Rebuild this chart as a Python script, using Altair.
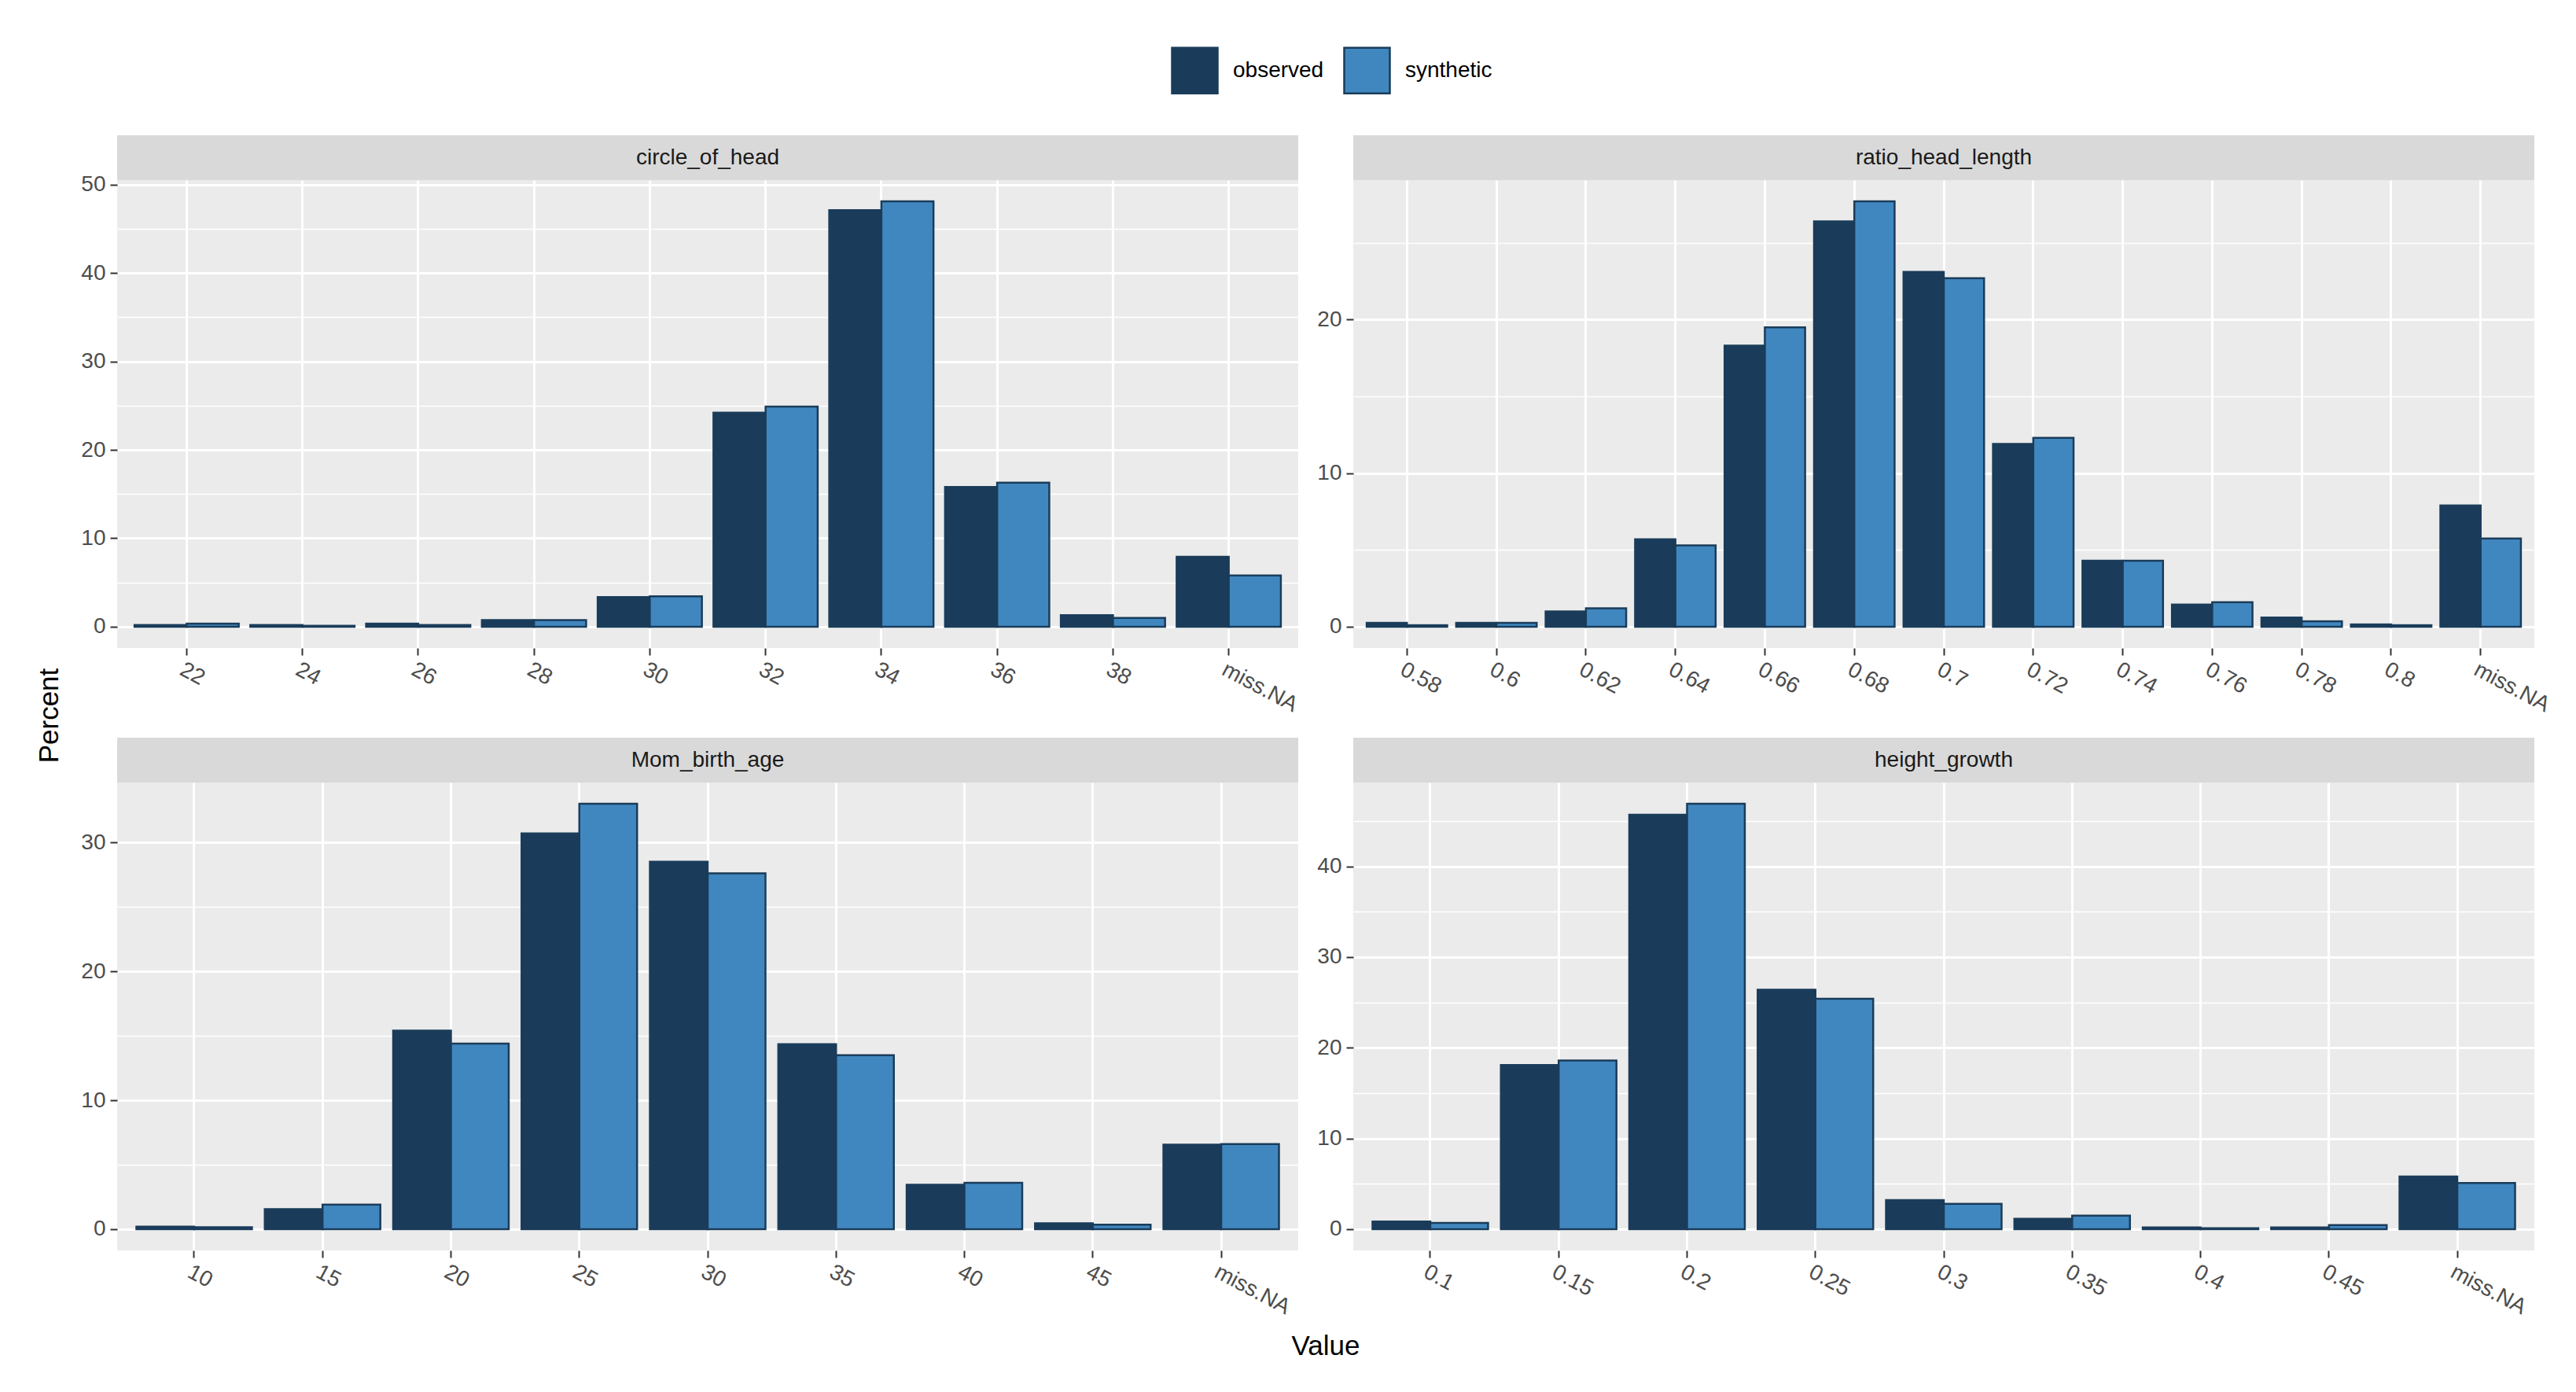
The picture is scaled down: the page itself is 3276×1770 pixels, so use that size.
import altair as alt
import pandas as pd

FONT = "Liberation Sans"
SERIES = ["observed", "synthetic"]
COLORS = ["#1A3C5A", "#4187BF"]
STROKE = "#1A3C5A"

# ---- data (percent per category) ----
circle_cats = ["22", "24", "26", "28", "30", "32", "34", "36", "38", "miss.NA"]
circle_obs = [0.2, 0.2, 0.35, 0.75, 3.35, 24.2, 47.1, 15.8, 1.3, 7.9]
circle_syn = [0.35, 0.1, 0.2, 0.75, 3.45, 24.9, 48.1, 16.3, 1.0, 5.8]

ratio_cats = ["0.58", "0.6", "0.62", "0.64", "0.66", "0.68", "0.7", "0.72",
              "0.74", "0.76", "0.78", "0.8", "miss.NA"]
ratio_obs = [0.25, 0.25, 1.0, 5.7, 18.3, 26.4, 23.1, 11.9, 4.3, 1.45, 0.6, 0.15, 7.9]
ratio_syn = [0.1, 0.25, 1.2, 5.3, 19.5, 27.7, 22.7, 12.3, 4.3, 1.6, 0.35, 0.1, 5.75]

mom_cats = ["10", "15", "20", "25", "30", "35", "40", "45", "miss.NA"]
mom_obs = [0.2, 1.55, 15.4, 30.7, 28.5, 14.35, 3.45, 0.45, 6.55]
mom_syn = [0.15, 1.9, 14.4, 33.0, 27.6, 13.5, 3.6, 0.35, 6.6]

hg_cats = ["0.1", "0.15", "0.2", "0.25", "0.3", "0.35", "0.4", "0.45", "miss.NA"]
hg_obs = [0.85, 18.1, 45.7, 26.4, 3.2, 1.15, 0.2, 0.2, 5.8]
hg_syn = [0.7, 18.6, 46.9, 25.4, 2.8, 1.5, 0.1, 0.45, 5.1]

PANELS = [
    ("circle_of_head", circle_cats, circle_obs, circle_syn),
    ("ratio_head_length", ratio_cats, ratio_obs, ratio_syn),
    ("Mom_birth_age", mom_cats, mom_obs, mom_syn),
    ("height_growth", hg_cats, hg_obs, hg_syn),
]

# ---- layout constants ----
W = 1502      # plot width
H = 595       # plot height
SH = 57       # strip height
COLGAP = 70
ROWGAP = 114

LEGEND = alt.Legend(
    title=None, orient="none", legendX=1340, legendY=-170, direction="horizontal",
    symbolType="square", symbolSize=3364, symbolStrokeColor=STROKE,
    symbolStrokeWidth=2.5, symbolOpacity=1, labelFontSize=28, labelFont=FONT,
    labelColor="black", labelOffset=18, columnPadding=20, padding=0,
)


def panel(name, cats, obs, syn, extra=None):
    df = pd.DataFrame({
        "cat": cats + cats,
        "series": ["observed"] * len(cats) + ["synthetic"] * len(cats),
        "value": obs + syn,
    })
    vmax = max(obs + syn)
    lo, hi = -0.05 * vmax, 1.05 * vmax
    major = list(range(0, int(hi) + 1, 10))
    minor = [m + 5 for m in major if m + 5 <= hi]
    yscale = alt.Scale(domain=[lo, hi], nice=False, zero=False)

    bars = alt.Chart(df).mark_bar(stroke=STROKE, strokeWidth=2.5).encode(
        x=alt.X("cat:N", sort=cats, title=None,
                scale=alt.Scale(paddingInner=0.1, paddingOuter=0.15),
                axis=alt.Axis(labelAngle=28, labelAlign="left", labelBaseline="top",
                              labelFontSize=28, labelFont=FONT, labelColor="#4D4D4D",
                              labelPadding=4, labelOverlap=False,
                              tickColor="#333333", tickSize=9, tickWidth=2,
                              domain=False, grid=True, gridColor="white",
                              gridWidth=3, bandPosition=0.5)),
        xOffset=alt.XOffset("series:N", sort=SERIES,
                            scale=alt.Scale(paddingInner=0, paddingOuter=0)),
        y=alt.Y("value:Q", scale=yscale, title=None,
                axis=alt.Axis(values=major, orient="left", labelFontSize=28,
                              labelFont=FONT, labelColor="#4D4D4D", labelPadding=6,
                              tickColor="#333333", tickSize=9, tickWidth=2,
                              domain=False, grid=True, gridColor="white",
                              gridWidth=3)),
        y2=alt.datum(0),
        color=alt.Color("series:N", sort=SERIES,
                        scale=alt.Scale(domain=SERIES, range=COLORS), legend=LEGEND),
    )
    minor_layer = alt.Chart(df).mark_point(opacity=0).encode(
        y=alt.Y("value:Q", scale=yscale, title=None,
                axis=alt.Axis(values=minor, orient="left", labels=False, ticks=False,
                              domain=False, grid=True, gridColor="white",
                              gridWidth=1.5)),
    )

    sdf = pd.DataFrame({"label": [name]})
    srect = alt.Chart(sdf).mark_rect(color="#D9D9D9").encode(
        x=alt.value(0), x2=alt.value(W), y=alt.value(-SH), y2=alt.value(0))
    stext = alt.Chart(sdf).mark_text(fontSize=28, font=FONT, color="#1A1A1A",
                                     baseline="middle", align="center").encode(
        x=alt.value(W / 2), y=alt.value(-SH / 2), text="label:N")

    layers = [minor_layer, bars, srect, stext]
    if extra is not None:
        layers.append(extra)
    return alt.layer(*layers).resolve_axis(y="independent").properties(
        width=W, height=H, view=alt.ViewBackground(fill="#EBEBEB", stroke=None))


pct_text = alt.Chart(pd.DataFrame({"t": ["Percent"]})).mark_text(
    fontSize=35, font=FONT, color="black", baseline="middle", align="center",
    angle=270).encode(text="t:N", x=alt.value(-86), y=alt.value(681))

value_text = alt.Chart(pd.DataFrame({"t": ["Value"]})).mark_text(
    fontSize=35, font=FONT, color="black", baseline="middle", align="center").encode(
    text="t:N", x=alt.value(W + COLGAP / 2), y=alt.value(717))

extras = [pct_text, None, value_text, None]
p = [panel(*args, extra=e) for args, e in zip(PANELS, extras)]

chart = alt.concat(
    *p, columns=2, bounds="flush",
    spacing=alt.RowColnumber(row=ROWGAP + SH, column=COLGAP),
).resolve_scale(
    xOffset="independent"
).properties(
    padding={"left": 38, "top": 51, "right": 10, "bottom": 10}
).configure_view(stroke=None).configure(font=FONT)

chart.save("out.html", embed_options={"renderer": "svg", "actions": False})
